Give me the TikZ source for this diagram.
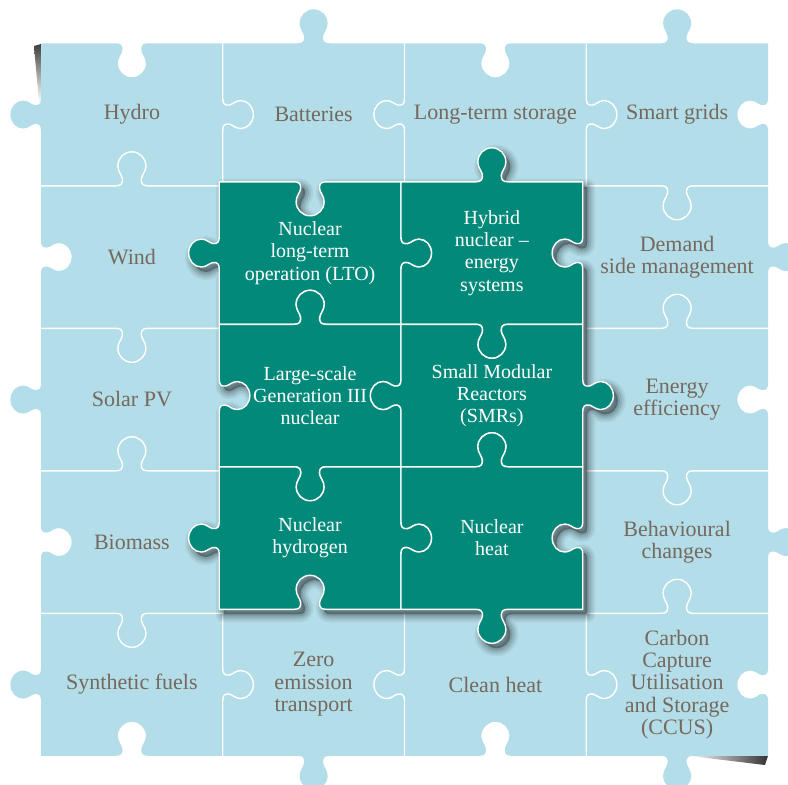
\documentclass[tikz,border=0pt]{standalone}
\usepackage{fontspec}
\setmainfont{Liberation Serif}
\definecolor{lb}{HTML}{B3DDE8}
\definecolor{tl}{HTML}{03897A}
\definecolor{txt}{HTML}{75695E}
% --- jigsaw edge helpers (pixel coordinates) ---
\newcommand\kcalc[2]{%
  \pgfmathsetmacro\kpx{\kxo+(\kL/2+(#1))*\kux+(#2)*\knx}%
  \pgfmathsetmacro\kpy{\kyo+(\kL/2+(#1))*\kuy+(#2)*\kny}}
\newcommand\kline[2]{\kcalc{#1}{#2}\pgfpathlineto{\pgfpointxy{\kpx}{\kpy}}}
\newcommand\kcurve[6]{%
  \kcalc{#1}{#2}\let\kax\kpx\let\kay\kpy
  \kcalc{#3}{#4}\let\kbx\kpx\let\kby\kpy
  \kcalc{#5}{#6}%
  \pgfpathcurveto{\pgfpointxy{\kax}{\kay}}{\pgfpointxy{\kbx}{\kby}}{\pgfpointxy{\kpx}{\kpy}}}
\newcommand\kedge[7]{%
  \pgfmathsetmacro\kxo{#1}\pgfmathsetmacro\kyo{#2}%
  \pgfmathsetmacro\kux{#3}\pgfmathsetmacro\kuy{#4}%
  \pgfmathsetmacro\knx{#5}\pgfmathsetmacro\kny{#6}%
  \pgfmathsetmacro\kL{#7}%
  \kline{-16}{0}%
  \kcurve{-11}{0}{-9}{2}{-9.5}{7}%
  \kcurve{-10}{11}{-14}{14}{-14}{20}%
  \kcurve{-14}{27.73}{-7.73}{34}{0}{34}%
  \kcurve{7.73}{34}{14}{27.73}{14}{20}%
  \kcurve{14}{14}{10}{11}{9.5}{7}%
  \kcurve{9}{2}{11}{0}{16}{0}%
  \pgfmathsetmacro\kend{\kL/2}\kline{\kend}{0}}
% horizontal edge at row boundary #1, column #2 (right / left); vertical edge at row #1, column boundary #2 (down / up)
\newcommand\HR[2]{\kedge{\ox+41+181.75*(#2-1)}{\oy+43.3+142.5*(#1)}{1}{0}{0}{(1-2*mod(#1+#2+1,2))}{181.75}}
\newcommand\HL[2]{\kedge{\ox+41+181.75*(#2)}{\oy+43.3+142.5*(#1)}{-1}{0}{0}{(1-2*mod(#1+#2+1,2))}{181.75}}
\newcommand\VD[2]{\kedge{\ox+41+181.75*(#2)}{\oy+43.3+142.5*(#1-1)}{0}{1}{0.9*(1-2*mod(#1+#2,2))}{0}{142.5}}
\newcommand\VU[2]{\kedge{\ox+41+181.75*(#2)}{\oy+43.3+142.5*(#1)}{0}{-1}{0.9*(1-2*mod(#1+#2,2))}{0}{142.5}}
\def\ox{0}\def\oy{0}
\begin{document}
\begin{tikzpicture}[x=1pt,y=-1pt,
  cut/.style={draw=white,line width=1.4pt},
  tpiece/.style={fill=tl,draw=white,line width=1.4pt,line join=round},
  lbtext/.style={text=txt,align=center,font=\fontsize{22}{22.4}\selectfont,inner sep=0pt},
  tltext/.style={text=white,align=center,font=\fontsize{20}{22.3}\selectfont,inner sep=0pt}]
\useasboundingbox (0,0) rectangle (788,785);
% page shadows
\shade[top color=black!75,bottom color=white] (34,46) -- (41,44) -- (41,102) -- (39,102) -- cycle;
\shade[left color=white,right color=black!80] (688,755.8) -- (768,755.8) -- (765,765) -- cycle;
% light blue sheet
\fill[lb] (41,43.3) \pgfextra{\def\ox{0}\def\oy{0}%
  \HR{0}{1}\HR{0}{2}\HR{0}{3}\HR{0}{4}%
  \VD{1}{4}\VD{2}{4}\VD{3}{4}\VD{4}{4}\VD{5}{4}%
  \HL{5}{4}\HL{5}{3}\HL{5}{2}\HL{5}{1}%
  \VU{5}{0}\VU{4}{0}\VU{3}{0}\VU{2}{0}\VU{1}{0}} -- cycle;
% cut lines between light blue pieces
\foreach \r in {1,5}{\foreach \c in {1,2,3}{
  \draw[cut] ({41+181.75*\c},{43.3+142.5*(\r-1)}) \pgfextra{\def\ox{0}\def\oy{0}\VD{\r}{\c}};}}
\foreach \c in {1,4}{\foreach \r in {1,2,3,4}{
  \draw[cut] ({41+181.75*(\c-1)},{43.3+142.5*\r}) \pgfextra{\def\ox{0}\def\oy{0}\HR{\r}{\c}};}}
% shadow of the raised block
\foreach \w/\o in {16/0.05,12/0.07,8/0.09,4/0.11}{
  \draw[black,opacity=\o,line width=\w pt,line join=round] (223.75,186.8) \pgfextra{\def\ox{1}\def\oy{1}%
    \HR{1}{2}\HR{1}{3}\VD{2}{3}\VD{3}{3}\VD{4}{3}\HL{4}{3}\HL{4}{2}\VU{4}{1}\VU{3}{1}\VU{2}{1}} -- cycle;}
\fill[black,opacity=0.3] (223.75,186.8) \pgfextra{\def\ox{1}\def\oy{1}%
    \HR{1}{2}\HR{1}{3}\VD{2}{3}\VD{3}{3}\VD{4}{3}\HL{4}{3}\HL{4}{2}\VU{4}{1}\VU{3}{1}\VU{2}{1}} -- cycle;
% teal pieces
\foreach \r in {2,3,4}{\foreach \c in {2,3}{
  \filldraw[tpiece] ({-3.5+41+181.75*(\c-1)},{-4+43.3+142.5*(\r-1)}) \pgfextra{\def\ox{-3.5}\def\oy{-4}%
    \HR{\r-1}{\c}\VD{\r}{\c}\HL{\r}{\c}\VU{\r}{\c-1}} -- cycle;}}
% texts on light blue pieces
\node[lbtext] (hydro) at (131.9,114.5) {Hydro};
\node[lbtext] (batt) at (313.6,114.5) {Batteries};
\node[lbtext] (lts) at (495.4,114.5) {Long-term storage};
\node[lbtext] (smart) at (677.1,114.5) {Smart grids};
\node[lbtext] (wind) at (131.9,257) {Wind};
\node[lbtext] (dsm) at (677.1,257) {Demand\\side management};
\node[lbtext] (solar) at (131.9,399.5) {Solar PV};
\node[lbtext] (eff) at (677.1,399.5) {Energy\\efficiency};
\node[lbtext] (bio) at (131.9,542) {Biomass};
\node[lbtext] (beh) at (677.1,542) {Behavioural\\changes};
\node[lbtext] (synth) at (131.9,684.5) {Synthetic fuels};
\node[lbtext] (zero) at (313.6,684.5) {Zero\\emission\\transport};
\node[lbtext] (clean) at (495.4,684.5) {Clean heat};
\node[lbtext] (ccus) at (677.1,684.5) {Carbon\\Capture\\Utilisation\\and Storage\\(CCUS)};
% texts on teal pieces
\node[tltext] (lto) at (310.1,253) {Nuclear\\long-term\\operation (LTO)};
\node[tltext] (hyb) at (491.9,253) {Hybrid\\nuclear –\\energy\\systems};
\node[tltext] (gen3) at (310.1,395.5) {Large-scale\\Generation III\\nuclear};
\node[tltext] (smr) at (491.9,395.5) {Small Modular\\Reactors\\(SMRs)};
\node[tltext] (h2) at (310.1,538) {Nuclear\\hydrogen};
\node[tltext] (heat) at (491.9,538) {Nuclear\\heat};
\end{tikzpicture}
\end{document}
